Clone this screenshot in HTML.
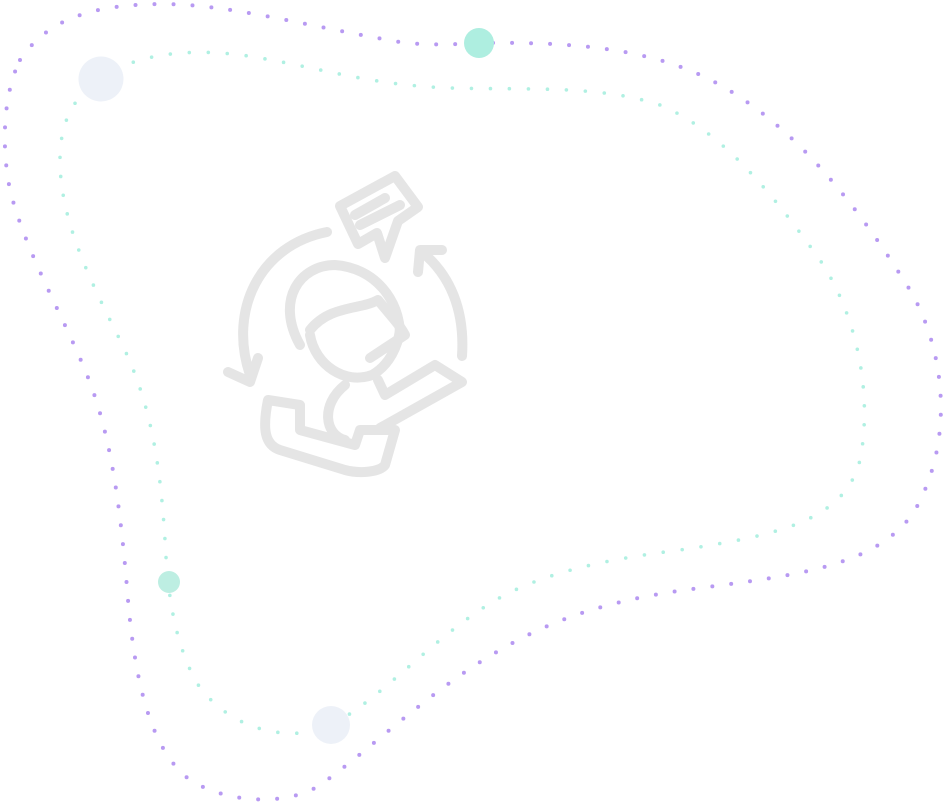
<!DOCTYPE html>
<html><head><meta charset="utf-8"><style>
html,body{margin:0;padding:0;background:#fff;width:951px;height:805px;overflow:hidden}
svg{display:block}
</style></head><body>
<svg width="951" height="805" viewBox="0 0 951 805" xmlns="http://www.w3.org/2000/svg">
<path d="M20,60 C50,15 100,5 160,4 C230,4 300,25 400,42 C430,46 460,44 478,43 C560,42 650,45 720,85 C800,130 860,210 910,290 C945,350 955,440 915,510 C880,565 800,575 700,588 C620,598 560,615 500,650 C430,690 370,750 320,785 C290,805 230,805 190,780 C150,750 135,680 128,600 C120,500 110,430 85,370 C60,310 25,250 10,190 C0,140 5,90 20,60 Z" fill="none" stroke="#b89af2" stroke-width="4" stroke-linecap="round" stroke-dasharray="0 19"/>
<path d="M100,80 C130,55 190,45 260,58 C320,68 370,85 450,88 C530,90 600,85 660,105 C720,130 770,190 820,260 C860,320 872,400 860,460 C845,520 780,535 680,550 C600,560 530,575 480,610 C420,650 370,710 320,730 C270,742 220,720 195,680 C175,640 168,600 165,540 C160,460 150,400 120,340 C90,280 60,220 60,160 C60,120 75,95 100,80 Z" fill="none" stroke="#b0f0e2" stroke-width="3.6" stroke-linecap="round" stroke-dasharray="0 19"/>
<circle cx="101" cy="79" r="22.5" fill="#edf1f8"/>
<circle cx="479" cy="43" r="15" fill="#aeeee0"/>
<circle cx="169" cy="582" r="11" fill="#bdeee2"/>
<circle cx="331" cy="725" r="19" fill="#edf1f8"/>
<g fill="none" stroke="#e5e5e5" stroke-width="10" stroke-linecap="round" stroke-linejoin="round">
<path d="M327,232 C260,245 228,310 250,375"/>
<path d="M228,372 L250,382 L258,358"/>
<path d="M462,356 C465,310 450,275 422,252"/>
<path d="M418,272 L420,250 L442,250"/>
<path d="M340,206 L395,176 L418,207 L398,221 L385,258 L377,233 L358,244 Z"/>
<path d="M355,215 L385,198 M360,225 L400,205"/>
<path d="M300,345 C275,300 300,265 335,265 C375,268 400,300 400,335"/>
<path d="M310,335 C315,365 345,385 372,375 C390,365 398,345 400,330"/>
<path d="M310,330 C330,305 360,310 378,300 C390,315 400,325 405,335 L370,358"/>
<path d="M378,380 L385,395 L435,365 L462,382 L380,428"/>
<path d="M345,385 C320,405 325,435 345,440"/>
<path d="M268,400 L300,405 L300,430 L355,445 L360,430 L395,430 L385,465 C380,472 360,474 345,470 L280,450 C265,445 262,430 268,400 Z"/>
</g>
</svg>
</body></html>
